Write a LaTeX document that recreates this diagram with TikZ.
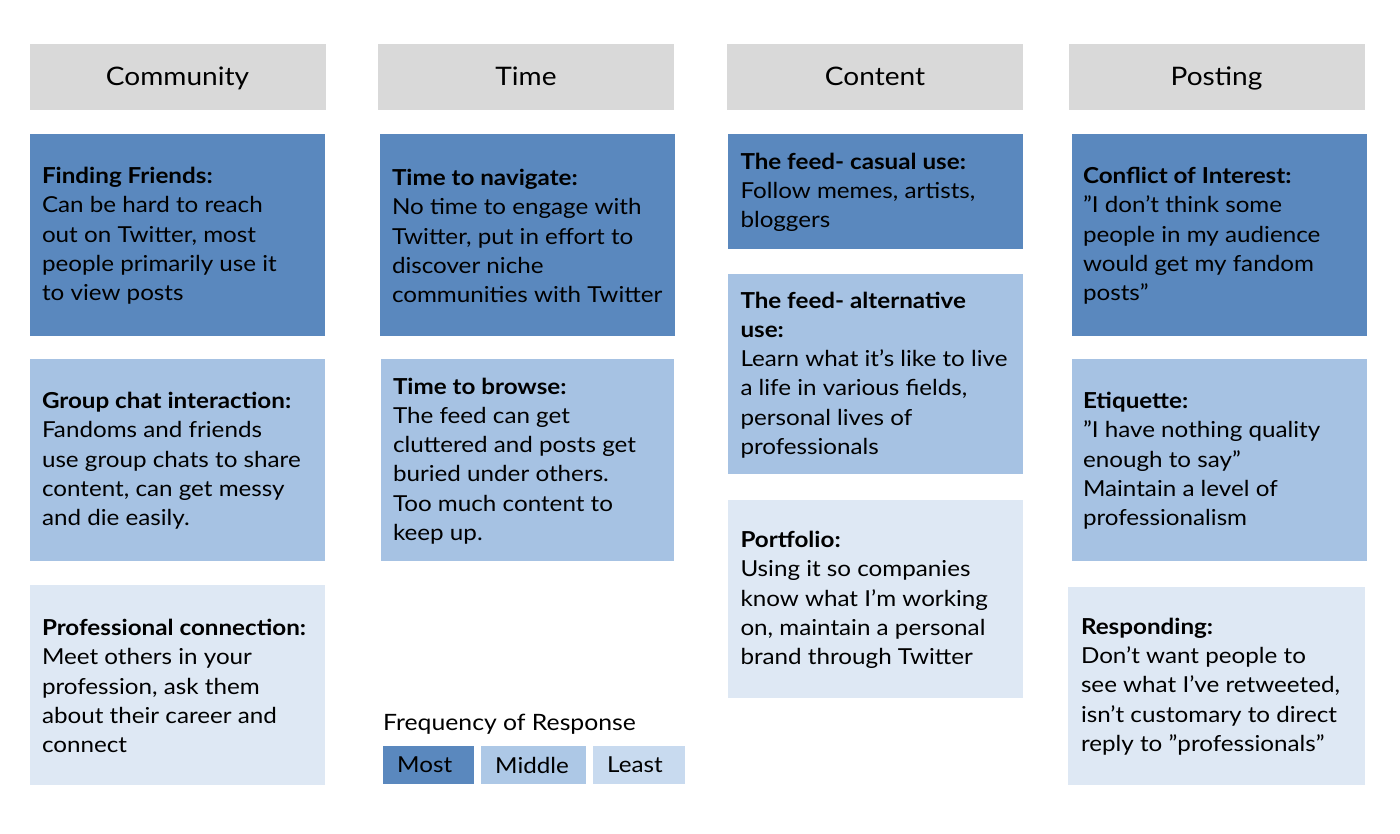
\documentclass[tikz,border=0pt]{standalone}
\usepackage{fontspec}
\setmainfont{Lato}[FakeStretch=1.1]
\definecolor{hdrgray}{HTML}{D9D9D9}
\definecolor{most}{HTML}{5A88BE}
\definecolor{middle}{HTML}{A6C2E3}
\definecolor{least}{HTML}{DEE8F4}
\definecolor{legmid}{HTML}{ADC8E6}
\definecolor{legleast}{HTML}{C8DAEF}
\begin{document}
\begin{tikzpicture}[x=1pt,y=-1pt,
  hdr/.style={fill=hdrgray, minimum width=296pt, minimum height=66pt, inner sep=0pt, text height=21pt, text depth=3pt, font=\fontsize{25.5}{30}\selectfont},
  card/.style={inner sep=0pt, minimum width=295pt},
  cmost/.style={card, fill=most},
  cmid/.style={card, fill=middle},
  cleast/.style={card, fill=least},
  txt/.style={anchor=west, align=left, inner sep=0pt, font=\fontsize{22}{29.3}\selectfont},
  legbox/.style={minimum height=38pt, inner sep=0pt, font=\fontsize{22}{25}\selectfont, anchor=north west, text width=#1, inner xsep=14pt, align=left},
]
\useasboundingbox (0,0) rectangle (1400,834);
\fill[white] (0,0) rectangle (1400,834);
% headers
\node[hdr] (h1) at (177.5,77) {Community};
\node[hdr] (h2) at (526,77) {Time};
\node[hdr] (h3) at (875,77) {Content};
\node[hdr] (h4) at (1216.5,77) {Posting};
% Community
\node[cmost, minimum height=202pt] (c1) at (177.5,235) {};
\node[txt] (c1t) at ([xshift=12pt,yshift=-1pt]c1.west) {\textbf{Finding Friends:}\\Can be hard to reach\\out on Twitter, most\\people primarily use it\\to view posts};
\node[cmid, minimum height=202pt] (c2) at (177.5,460) {};
\node[txt] (c2t) at ([xshift=12pt,yshift=-1pt]c2.west) {\textbf{Group chat interaction:}\\Fandoms and friends\\use group chats to share\\content, can get messy\\and die easily.};
\node[cleast, minimum height=200pt] (c3) at (177.5,685) {};
\node[txt] (c3t) at ([xshift=12pt,yshift=-1pt]c3.west) {\textbf{Professional connection:}\\Meet others in your\\profession, ask them\\about their career and\\connect};
% Time
\node[cmost, minimum height=202pt] (t1) at (527.5,235) {};
\node[txt] (t1t) at ([xshift=12pt,yshift=-1pt]t1.west) {\textbf{Time to navigate:}\\No time to engage with\\Twitter, put in effort to\\discover niche\\communities with Twitter};
\node[cmid, minimum height=202pt, minimum width=293pt] (t2) at (527.5,460) {};
\node[txt] (t2t) at ([xshift=12pt,yshift=-1pt]t2.west) {\textbf{Time to browse:}\\The feed can get\\cluttered and posts get\\buried under others.\\Too much content to\\keep up.};
% Content
\node[cmost, minimum height=115pt] (n1) at (875,191.5) {};
\node[txt] (n1t) at ([xshift=13pt,yshift=-1pt]n1.west) {\textbf{The feed- casual use:}\\Follow memes, artists,\\bloggers};
\node[cmid, minimum height=200pt] (n2) at (875,374) {};
\node[txt] (n2t) at ([xshift=13pt,yshift=-1pt]n2.west) {\textbf{The feed- alternative}\\\textbf{use:}\\Learn what it’s like to live\\a life in various fields,\\personal lives of\\professionals};
\node[cleast, minimum height=198pt] (n3) at (875,599) {};
\node[txt] (n3t) at ([xshift=13pt,yshift=-1pt]n3.west) {\textbf{Portfolio:}\\Using it so companies\\know what I’m working\\on, maintain a personal\\brand through Twitter};
% Posting
\node[cmost, minimum height=202pt] (p1) at (1219.5,235) {};
\node[txt] (p1t) at ([xshift=11pt,yshift=-1pt]p1.west) {\textbf{Conflict of Interest:}\\”I don’t think some\\people in my audience\\would get my fandom\\posts”};
\node[cmid, minimum height=202pt] (p2) at (1219.5,460) {};
\node[txt] (p2t) at ([xshift=11pt,yshift=-1pt]p2.west) {\textbf{Etiquette:}\\”I have nothing quality\\enough to say”\\Maintain a level of\\professionalism};
\node[cleast, minimum height=198pt, minimum width=297pt] (p3) at (1216.5,685.5) {};
\node[txt] (p3t) at ([xshift=13pt,yshift=-1pt]p3.west) {\textbf{Responding:}\\Don’t want people to\\see what I’ve retweeted,\\isn’t customary to direct\\reply to ”professionals”};
% legend
\node[anchor=west, inner sep=0pt, font=\fontsize{22.5}{25}\selectfont] (lt) at (383,724) {Frequency of Response};
\node[legbox=63pt, fill=most] (lm) at (383,746) {Most};
\node[legbox=77pt, fill=legmid] (lmd) at (481,746) {Middle};
\node[legbox=64pt, fill=legleast] (ll) at (593,746) {Least};
\end{tikzpicture}
\end{document}
